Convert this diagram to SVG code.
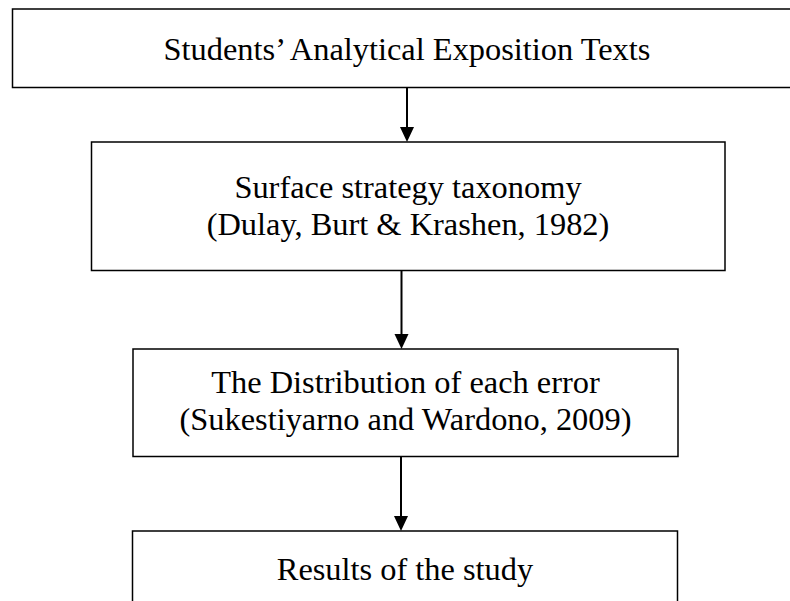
<svg xmlns="http://www.w3.org/2000/svg" width="790" height="601" viewBox="0 0 790 601">
<style>
.box{fill:#fff;stroke:#000;stroke-width:1.5}
.t{font-family:"Liberation Serif","Times New Roman",serif;font-size:32.4px;fill:#000;text-anchor:middle}
.c{stroke:#000;stroke-width:2;fill:none}
.h{fill:#000}
</style>
<rect width="790" height="601" fill="#fff"/>
<g id="n1">
<rect class="box" x="12.5" y="9" width="800" height="78.5"/>
<text class="t" x="407" y="60">Students’ Analytical Exposition Texts</text>
</g>
<g id="n2">
<rect class="box" x="91.5" y="142" width="633.5" height="128.5"/>
<text class="t" x="408" y="198">Surface strategy taxonomy</text>
<text class="t" x="408" y="235">(Dulay, Burt &amp; Krashen, 1982)</text>
</g>
<g id="n3">
<rect class="box" x="133" y="349" width="545" height="107.5"/>
<text class="t" x="405.5" y="393">The Distribution of each error</text>
<text class="t" x="405.5" y="430">(Sukestiyarno and Wardono, 2009)</text>
</g>
<g id="n4">
<rect class="box" x="132.5" y="531" width="545" height="100"/>
<text class="t" x="405" y="580">Results of the study</text>
</g>
<g id="connectors">
<path class="c" d="M407,87.5 V127"/>
<path class="h" d="M400,127 L414,127 L407,142 Z"/>
<path class="c" d="M401.5,270.5 V334"/>
<path class="h" d="M394.5,334 L408.5,334 L401.5,349 Z"/>
<path class="c" d="M401,456.5 V516"/>
<path class="h" d="M394,516 L408,516 L401,531 Z"/>
</g>
</svg>
